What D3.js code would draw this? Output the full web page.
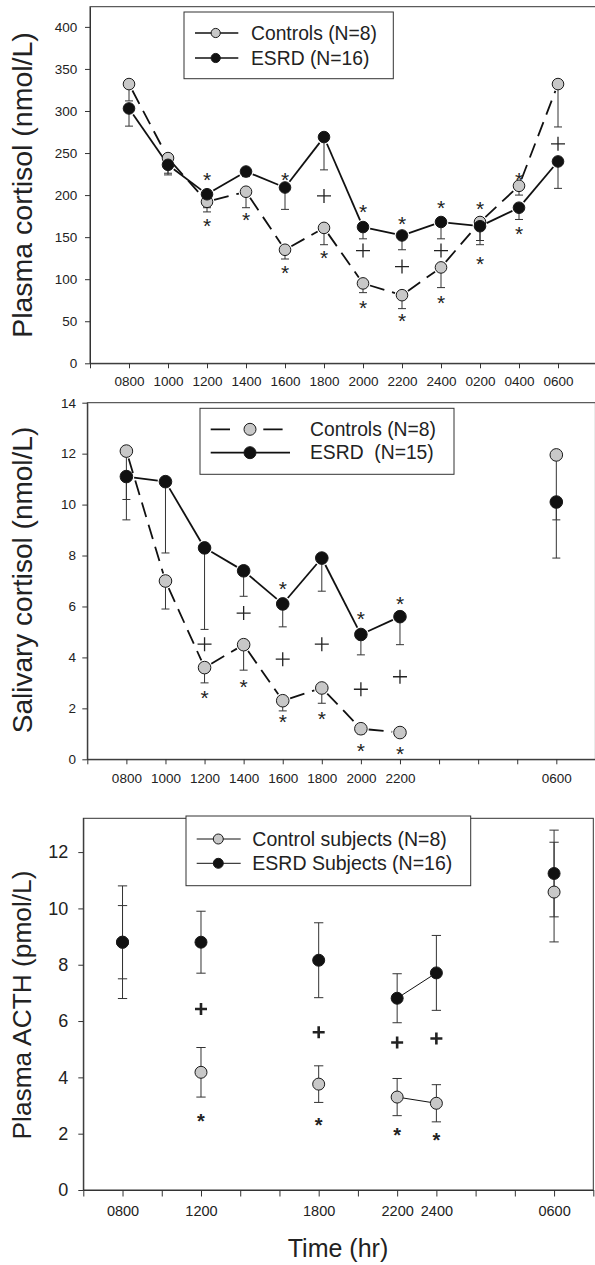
<!DOCTYPE html>
<html lang="en">
<head>
  <meta charset="UTF-8">
  <title>Cortisol and ACTH</title>
  <style>
    body { margin: 0; background: #fff; }
    text { font-family: "Liberation Sans", Arial, sans-serif; }
  </style>
</head>
<body>
  <script src="https://d3js.org/d3.v7.min.js"></script>
  <script>
    // ---- data (time index 0..11) ----
    const timeLabels = ['0800', '1000', '1200', '1400', '1600', '1800', '2000', '2200', '2400', '0200', '0400', '0600']

    // plasma cortisol (nmol/L), lower error bar ends
    const plasmaCtrl    = [332, 244, 192, 204, 135, 161, 95, 81, 114, 168, 211, 332]
    const plasmaCtrlLow = [312, 226, 180, 185, 124, 141, 84, 65, 90, 141, 200, 281]
    const plasmaEsrd    = [303, 236, 201, 228, 209, 269, 162, 152, 168, 163, 185, 240]
    const plasmaEsrdLow = [282, 224, 185, 222, 183, 230, 148, 135, 148, 146, 171, 208]
    const plasmaStars = [[2, 224], [2, 169], [3, 177], [4, 224], [4, 114], [5, 131], [6, 186], [6, 72],
                         [7, 172], [7, 56], [8, 191], [8, 78], [9, 190], [9, 124], [10, 224], [10, 160]]
    const plasmaPlus = [[5, 199], [6, 134], [7, 115], [8, 134], [11, 261]]

    // salivary cortisol (nmol/L)
    const salivaCtrl    = [12.1, 7.0, 3.6, 4.5, 2.3, 2.8, 1.2, 1.05, null, null, null, 11.95]
    const salivaCtrlLow = [10.2, 5.9, 3.0, 3.5, 1.9, 2.2, 1.0, null, null, null, null, 9.4]
    const salivaEsrd    = [11.1, 10.9, 8.3, 7.4, 6.1, 7.9, 4.9, 5.6, null, null, null, 10.1]
    const salivaEsrdLow = [9.4, 8.1, 5.1, 6.4, 5.2, 6.6, 4.1, 4.5, null, null, null, 7.9]
    const salivaStars = [[2, 2.6], [3, 3.05], [4, 6.9], [4, 1.65], [5, 1.8], [6, 5.7], [6, 0.52], [7, 6.3], [7, 0.43]]
    const salivaPlus = [[2, 4.52], [3, 5.74], [4, 3.93], [5, 4.52], [6, 2.75], [7, 3.24]]

    // plasma ACTH (pmol/L), mean and SE
    const acthCtrl   = [8.8, null, 4.18, null, null, 3.76, null, 3.30, 3.08, null, null, 10.58]
    const acthCtrlSE = [1.3, null, 0.88, null, null, 0.65, null, 0.66, 0.66, null, null, 1.77]
    const acthEsrd   = [8.8, null, 8.8, null, null, 8.16, null, 6.81, 7.71, null, null, 11.24]
    const acthEsrdSE = [2.0, null, 1.1, null, null, 1.33, null, 0.87, 1.33, null, null, 1.54]
    const acthStars = [[2, 2.63], [5, 2.46], [7, 2.11], [8, 1.95]]
    const acthPlus = [[2, 6.43], [5, 5.60], [7, 5.24], [8, 5.38]]

    const svg = d3.select('body').append('svg').attr('width', 595).attr('height', 1265)
    const ink = '#222'

    function drawPanel(c) {
      const x = d3.scaleLinear().domain([-1, 12]).range([c.left, c.right])
      const y = d3.scaleLinear().domain([0, c.yMax]).range([c.bottom, c.top])
      const g = svg.append('g')

      g.append('rect')
        .attr('x', c.left).attr('y', c.top)
        .attr('width', c.right - c.left).attr('height', c.bottom - c.top)
        .attr('fill', 'none').attr('stroke', '#333').attr('stroke-width', 1)

      const xAxis = d3.axisBottom(x)
        .tickValues(d3.range(-1, 13))
        .tickFormat(i => c.xLabels.includes(i) ? timeLabels[i] : '')
        .tickSizeInner(c.tick).tickSizeOuter(0).tickPadding(c.xPad)
      const xa = g.append('g').attr('transform', `translate(0,${c.bottom})`).call(xAxis)
      xa.selectAll('text').attr('font-size', c.xFont).attr('fill', ink)
        .attr('font-family', '"Liberation Sans", Arial, sans-serif')

      const yAxis = d3.axisLeft(y).tickValues(c.yTicks)
        .tickSizeInner(5).tickSizeOuter(0).tickPadding(c.yPad)
      const ya = g.append('g').attr('transform', `translate(${c.left},0)`).call(yAxis)
      ya.selectAll('text').attr('font-size', c.yFont).attr('fill', ink)
        .attr('font-family', '"Liberation Sans", Arial, sans-serif')
      g.selectAll('.domain, .tick line').attr('stroke', '#333')

      g.append('text')
        .attr('transform', `translate(${c.titleX},${c.titleY}) rotate(-90)`)
        .attr('text-anchor', 'middle').attr('font-size', c.titleFont).attr('fill', ink)
        .text(c.title)

      // connecting lines between consecutive time points
      c.series.forEach(s => {
        for (let i = 0; i < 11; i++) {
          if (s.mean[i] == null || s.mean[i + 1] == null) continue
          const x0 = x(i), y0 = y(s.mean[i]), x1 = x(i + 1), y1 = y(s.mean[i + 1])
          const len = Math.hypot(x1 - x0, y1 - y0), gap = c.r + c.lineGap
          if (len <= 2 * gap) continue
          const ux = (x1 - x0) / len, uy = (y1 - y0) / len
          g.append('line')
            .attr('x1', x0 + ux * gap).attr('y1', y0 + uy * gap)
            .attr('x2', x1 - ux * gap).attr('y2', y1 - uy * gap)
            .attr('stroke', '#111').attr('stroke-width', c.lineWidth)
            .attr('stroke-dasharray', s.dash || null)
        }
      })

      // error bars
      c.series.forEach(s => {
        s.mean.forEach((m, i) => {
          if (m == null || s.lo[i] == null) return
          const hi = s.hi[i]
          g.append('line')
            .attr('x1', x(i)).attr('x2', x(i))
            .attr('y1', y(hi)).attr('y2', y(s.lo[i]))
            .attr('stroke', '#333').attr('stroke-width', 1)
          const caps = hi > m ? [hi, s.lo[i]] : [s.lo[i]]
          caps.forEach(v => g.append('line')
            .attr('x1', x(i) - c.cap / 2).attr('x2', x(i) + c.cap / 2)
            .attr('y1', y(v)).attr('y2', y(v))
            .attr('stroke', '#333').attr('stroke-width', 1))
        })
      })

      // points
      c.series.forEach(s => {
        g.selectAll(null)
          .data(s.mean.map((m, i) => [i, m]).filter(d => d[1] != null))
          .enter().append('circle')
          .attr('cx', d => x(d[0])).attr('cy', d => y(d[1]))
          .attr('r', c.r).attr('fill', s.fill).attr('stroke', '#1a1a1a').attr('stroke-width', 1)
      })

      // significance marks
      g.selectAll(null).data(c.stars).enter().append('text')
        .attr('x', d => x(d[0])).attr('y', d => y(d[1]) + c.starSize * 0.58)
        .attr('text-anchor', 'middle').attr('font-size', c.starSize).attr('fill', ink)
        .attr('font-weight', c.starWeight)
        .text('*')
      g.selectAll(null).data(c.plus).enter().append('path')
        .attr('d', d => {
          const px = x(d[0]), py = y(d[1]), h = c.plusSize / 2
          return `M${px - h},${py}H${px + h}M${px},${py - h}V${py + h}`
        })
        .attr('stroke', ink).attr('stroke-width', c.plusWidth).attr('fill', 'none')

      // legend
      const L = c.legend
      g.append('rect')
        .attr('x', L.box[0]).attr('y', L.box[1])
        .attr('width', L.box[2] - L.box[0]).attr('height', L.box[3] - L.box[1])
        .attr('fill', '#fff').attr('stroke', '#333').attr('stroke-width', 1)
      c.series.forEach((s, k) => {
        const ry = L.rows[k]
        g.append('line')
          .attr('x1', L.line[0]).attr('x2', L.lineEnd[k])
          .attr('y1', ry).attr('y2', ry)
          .attr('stroke', '#111').attr('stroke-width', L.lineWidth)
          .attr('stroke-dasharray', L.dash[k])
        g.append('circle').attr('cx', L.marker).attr('cy', ry).attr('r', L.r)
          .attr('fill', s.fill).attr('stroke', '#1a1a1a').attr('stroke-width', 1)
        g.append('text').attr('x', L.text).attr('y', ry + L.baseline)
          .attr('font-size', L.font).attr('fill', ink)
          .style('white-space', 'pre')
          .text(s.name)
      })
    }

    const ctrlFill = '#c8c8c8', esrdFill = '#111'

    drawPanel({
      left: 90, right: 597, top: 6.7, bottom: 363.3, yMax: 424,
      yTicks: d3.range(0, 401, 50), yFont: 13.5, yPad: 7.7,
      tick: 5, xFont: 13.5, xPad: 8.6, xLabels: d3.range(0, 12),
      title: 'Plasma cortisol (nmol/L)', titleFont: 28.5, titleX: 32, titleY: 185,
      r: 5.8, lineGap: 1.5, lineWidth: 1.8, cap: 8,
      starSize: 21, starWeight: 'normal', plusSize: 14, plusWidth: 1.3,
      stars: plasmaStars, plus: plasmaPlus,
      series: [
        { name: 'Controls (N=8)', mean: plasmaCtrl, lo: plasmaCtrlLow, hi: plasmaCtrl, fill: ctrlFill, dash: '15,8' },
        { name: 'ESRD (N=16)', mean: plasmaEsrd, lo: plasmaEsrdLow, hi: plasmaEsrd, fill: esrdFill }
      ],
      legend: {
        box: [184, 12, 393.3, 78.7], rows: [33, 58], line: [195], lineEnd: [238.3, 238.3],
        dash: [null, null], lineWidth: 1.5, marker: 215.7, r: 4.6, text: 251, baseline: 7.3, font: 19.3
      }
    })

    drawPanel({
      left: 87.3, right: 595.4, top: 402.7, bottom: 759.3, yMax: 14,
      yTicks: d3.range(0, 15, 2), yFont: 13.5, yPad: 6.3,
      tick: 5, xFont: 13.5, xPad: 9.2, xLabels: [0, 1, 2, 3, 4, 5, 6, 7, 11],
      title: 'Salivary cortisol (nmol/L)', titleFont: 28, titleX: 31.7, titleY: 580,
      r: 6.3, lineGap: 1.5, lineWidth: 1.8, cap: 8,
      starSize: 21, starWeight: 'normal', plusSize: 14, plusWidth: 1.3,
      stars: salivaStars, plus: salivaPlus,
      series: [
        { name: 'Controls (N=8)', mean: salivaCtrl, lo: salivaCtrlLow, hi: salivaCtrl, fill: ctrlFill, dash: '15,8' },
        { name: 'ESRD  (N=15)', mean: salivaEsrd, lo: salivaEsrdLow, hi: salivaEsrd, fill: esrdFill }
      ],
      legend: {
        box: [200, 408.3, 454, 474.3], rows: [429.3, 452.7], line: [210.7], lineEnd: [283.3, 290],
        dash: ['19.3,33.3', null], lineWidth: 1.8, marker: 250, r: 6, text: 310, baseline: 6.5, font: 19.3
      }
    })

    drawPanel({
      left: 83.3, right: 593.3, top: 818.3, bottom: 1190, yMax: 13.2,
      yTicks: d3.range(0, 13, 2), yFont: 18, yPad: 10,
      tick: 6.5, xFont: 14.5, xPad: 9.2, xLabels: [0, 2, 5, 7, 8, 11],
      title: 'Plasma ACTH (pmol/L)', titleFont: 26.3, titleX: 30.5, titleY: 1005,
      r: 6, lineGap: 0, lineWidth: 1, cap: 9.3,
      starSize: 20, starWeight: 'bold', plusSize: 12, plusWidth: 2.6,
      stars: acthStars, plus: acthPlus,
      series: [
        { name: 'Control subjects (N=8)', mean: acthCtrl, fill: ctrlFill,
          lo: acthCtrl.map((m, i) => m == null ? null : m - acthCtrlSE[i]),
          hi: acthCtrl.map((m, i) => m == null ? null : m + acthCtrlSE[i]) },
        { name: 'ESRD Subjects (N=16)', mean: acthEsrd, fill: esrdFill,
          lo: acthEsrd.map((m, i) => m == null ? null : m - acthEsrdSE[i]),
          hi: acthEsrd.map((m, i) => m == null ? null : m + acthEsrdSE[i]) }
      ],
      legend: {
        box: [186, 816, 470.7, 885.7], rows: [839, 863.3], line: [196.7], lineEnd: [240.7, 240.7],
        dash: [null, null], lineWidth: 1, marker: 218.3, r: 5, text: 252.3, baseline: 6.8, font: 19.5
      }
    })

    svg.append('text')
      .attr('x', 338).attr('y', 1257)
      .attr('text-anchor', 'middle').attr('font-size', 25).attr('fill', ink)
      .text('Time (hr)')
  </script>
</body>
</html>
